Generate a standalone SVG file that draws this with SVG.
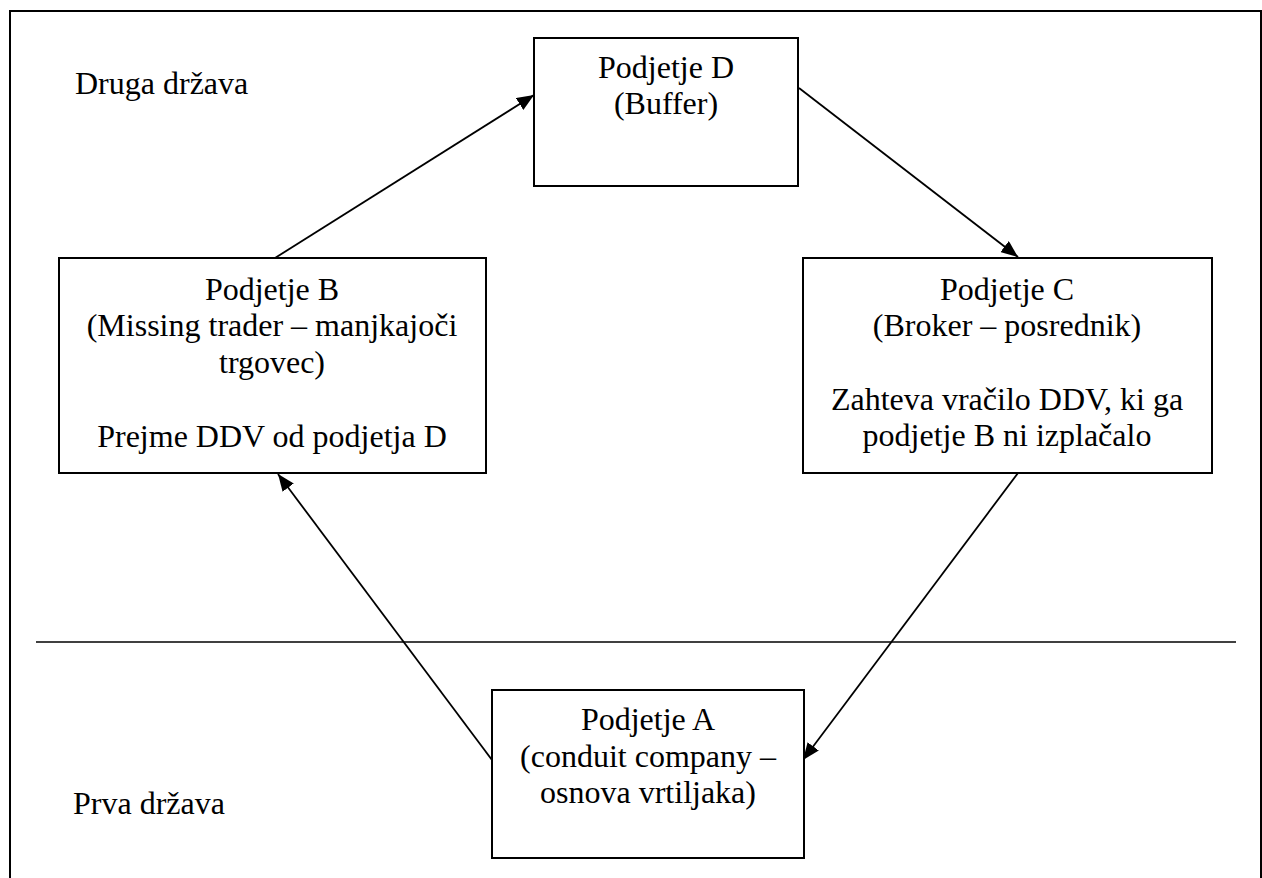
<svg xmlns="http://www.w3.org/2000/svg" width="1262" height="878" viewBox="0 0 1262 878">
<style>
.box{fill:#fff;stroke:#000;stroke-width:2}
.t{text-anchor:middle}
.c{stroke:#000;stroke-width:1.8;fill:none}
</style>
<defs>
<marker id="ah" markerUnits="userSpaceOnUse" markerWidth="18" markerHeight="14" refX="17" refY="7" orient="auto">
<path d="M0,0 L17,7 L0,14 z" fill="#000"/>
</marker>
</defs>
<rect x="10" y="11" width="1251" height="900" fill="#fff" stroke="#000" stroke-width="2"/>
<line x1="36" y1="642" x2="1236" y2="642" stroke="#000" stroke-width="1.6"/>
<g font-family="Liberation Serif, Times New Roman, Times, DejaVu Serif, serif" font-size="32" fill="#000">
<text x="75" y="94">Druga država</text>
<text x="73" y="814">Prva država</text>
</g>
<g id="connectors">
<line class="c" x1="275" y1="258" x2="534" y2="95" marker-end="url(#ah)"/>
<line class="c" x1="799" y1="88" x2="1018" y2="257" marker-end="url(#ah)"/>
<line class="c" x1="1018" y1="473" x2="803" y2="760" marker-end="url(#ah)"/>
<line class="c" x1="492" y1="760" x2="278" y2="474" marker-end="url(#ah)"/>
</g>
<g font-family="Liberation Serif, Times New Roman, Times, DejaVu Serif, serif" font-size="32" fill="#000">
<g id="nodeD">
<rect class="box" x="534" y="38" width="264" height="148"/>
<text class="t" x="666" y="78">Podjetje D</text>
<text class="t" x="666" y="114">(Buffer)</text>
</g>
<g id="nodeB">
<rect class="box" x="59" y="258" width="427" height="215"/>
<text class="t" x="272" y="300">Podjetje B</text>
<text class="t" x="272" y="336">(Missing trader – manjkajoči</text>
<text class="t" x="272" y="373">trgovec)</text>
<text class="t" x="272" y="447">Prejme DDV od podjetja D</text>
</g>
<g id="nodeC">
<rect class="box" x="803" y="258" width="409" height="215"/>
<text class="t" x="1007" y="300">Podjetje C</text>
<text class="t" x="1007" y="336">(Broker – posrednik)</text>
<text class="t" x="1007" y="410">Zahteva vračilo DDV, ki ga</text>
<text class="t" x="1007" y="446">podjetje B ni izplačalo</text>
</g>
<g id="nodeA">
<rect class="box" x="492" y="690" width="312" height="168"/>
<text class="t" x="648" y="730">Podjetje A</text>
<text class="t" x="648" y="767">(conduit company –</text>
<text class="t" x="648" y="803">osnova vrtiljaka)</text>
</g>
</g>
</svg>
